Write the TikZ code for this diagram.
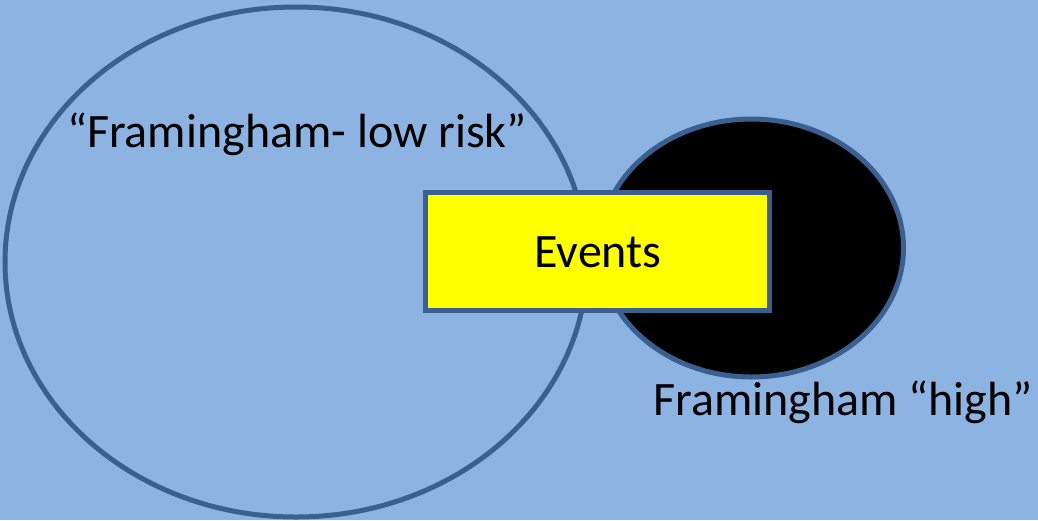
\documentclass[tikz,border=0pt]{standalone}
\usepackage{fontspec}
\setmainfont{Carlito}
\usetikzlibrary{shapes.geometric}
\definecolor{bgblue}{HTML}{8DB3E2}
\definecolor{edgeblue}{HTML}{3B6090}
\definecolor{evyellow}{RGB}{255,255,0}
\begin{document}
\begin{tikzpicture}[x=1pt,y=-1pt,
  outline/.style={draw=edgeblue,line width=5pt},
  lbl/.style={font=\fontsize{48}{58}\selectfont,text=black,inner sep=0pt,anchor=base}]
\fill[bgblue] (0,0) rectangle (1038,520);
\useasboundingbox (0,0) rectangle (1038,520);
\node[outline,ellipse,minimum width=582pt,minimum height=510pt,inner sep=0pt] (low) at (296,262) {};
\node[outline,ellipse,fill=black,minimum width=304pt,minimum height=258pt,inner sep=0pt] (high) at (751.5,248) {};
\node[outline,fill=evyellow,minimum width=344pt,minimum height=118pt,inner sep=0pt] (ev) at (597.5,251.5) {};
\node[lbl] (evt) at (598,267) {Events};
\node[lbl] (lowt) at (297,147) {“Framingham- low risk”};
\node[lbl] (hight) at (843,415) {Framingham “high”};
\end{tikzpicture}
\end{document}
